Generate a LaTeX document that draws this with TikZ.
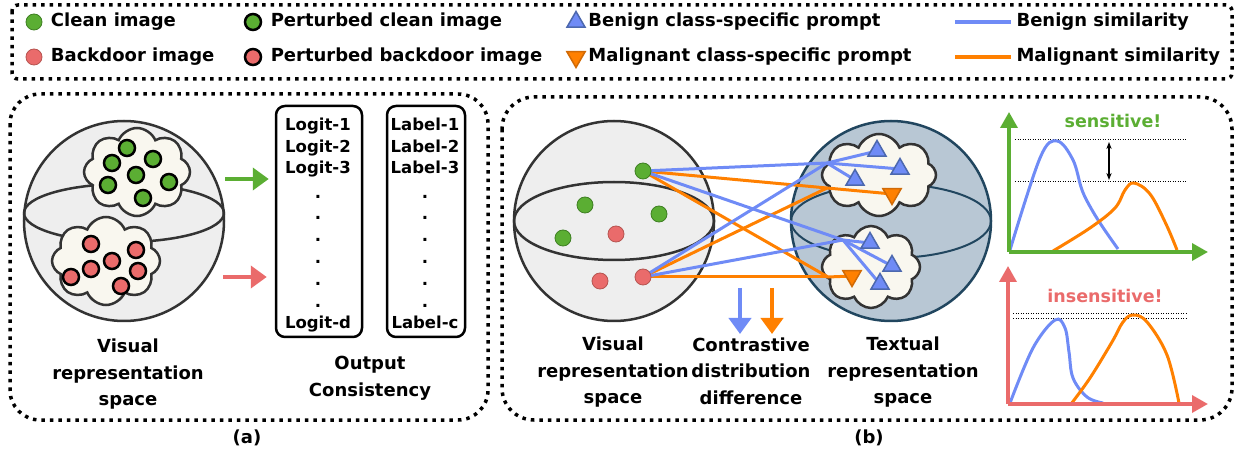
\documentclass[tikz,border=0pt]{standalone}
\usepackage{fontspec}
\setmainfont{DejaVu Sans}
\usetikzlibrary{arrows.meta,shapes.geometric,shapes.symbols,positioning}

\definecolor{cleangreen}{HTML}{5BAE33}
\definecolor{cleanedge}{HTML}{3E7F22}
\definecolor{bdred}{HTML}{EA6B6B}
\definecolor{bdedge}{HTML}{B65450}
\definecolor{benignblue}{HTML}{6F8BF6}
\definecolor{benignedge}{HTML}{4C68AE}
\definecolor{maligorange}{HTML}{FF8000}
\definecolor{maligedge}{HTML}{D16A06}
\definecolor{cloudfill}{HTML}{F9F7EF}
\definecolor{spheregray}{HTML}{EEEEEE}
\definecolor{edgegray}{HTML}{333333}
\definecolor{textsphere}{HTML}{B8C7D4}
\definecolor{textedge}{HTML}{21465F}

\begin{document}
\begin{tikzpicture}[x=1pt, y=-1pt,
  every node/.style={font=\bfseries\fontsize{18}{26.5}\selectfont},
  dotframe/.style={line width=3.5pt, dash pattern=on 3.5pt off 5pt},
  sphere/.style={circle, draw=edgegray, line width=2.5pt, fill=spheregray, minimum size=200pt, inner sep=0pt},
  blob/.style={cloud, cloud puffs=8, cloud puff arc=135, cloud ignores aspect, draw=edgegray, line width=2.5pt, fill=cloudfill, inner sep=0pt},
  cleandot/.style={circle, minimum size=16pt, inner sep=0pt, line width=0.8pt},
  pdot/.style={circle, minimum size=16pt, inner sep=0pt, draw=black, line width=2.5pt},
  benign/.style={regular polygon, regular polygon sides=3, minimum size=21pt, inner sep=0pt, fill=benignblue, draw=benignedge, line width=1.5pt},
  malign/.style={benign, shape border rotate=180, fill=maligorange, draw=maligedge},
  bline/.style={benignblue, line width=3pt},
  oline/.style={maligorange, line width=3pt},
  lgtext/.style={text height=13pt, text depth=3.5pt},
  outbox/.style={draw, line width=2.5pt, rounded corners=9pt, minimum height=231pt},
  small/.style={font=\bfseries\fontsize{16.5}{20}\selectfont, anchor=base, inner sep=0pt},
  bigarrow/.style={line width=4pt, -{Triangle[length=16pt,width=22pt]}},
  gaxis/.style={line width=3.5pt, -{Triangle[length=16pt,width=17pt]}},
  refline/.style={line width=1pt, dash pattern=on 1pt off 1.5pt},
  curve/.style={line width=3pt, smooth, tension=0.6}]

\useasboundingbox (0,0) rectangle (1235,454);

% legend
\draw[dotframe, rounded corners=6pt] (12,5) rectangle (1232,79);
\node[cleandot, fill=cleangreen, draw=cleanedge] (lgclean) at (34,22) {};
\node[lgtext, right=5pt of lgclean] (lgcleantxt) {Clean image};
\node[cleandot, fill=bdred, draw=bdedge] (lgbd) at (34,57) {};
\node[lgtext, right=5pt of lgbd] (lgbdtxt) {Backdoor image};
\node[pdot, fill=cleangreen] (lgpclean) at (253,22) {};
\node[lgtext, right=5pt of lgpclean] (lgpcleantxt) {Perturbed clean image};
\node[pdot, fill=bdred] (lgpbd) at (253,57) {};
\node[lgtext, right=5pt of lgpbd] (lgpbdtxt) {Perturbed backdoor image};
\node[benign] (lgbenign) at (576,22) {};
\node[lgtext, right=2pt of lgbenign] (lgbenigntxt) {Benign class-specific prompt};
\node[malign] (lgmalign) at (576,57) {};
\node[lgtext, right=2pt of lgmalign] (lgmaligntxt) {Malignant class-specific prompt};
\coordinate (lgb1) at (955,22);
\coordinate (lgb2) at (1011,22);
\draw[bline, line width=3.5pt] (lgb1) -- (lgb2);
\node[lgtext, right=2pt of lgb2] (lgbsimtxt) {Benign similarity};
\coordinate (lgo1) at (955,57);
\coordinate (lgo2) at (1011,57);
\draw[oline, line width=3.5pt] (lgo1) -- (lgo2);
\node[lgtext, right=2pt of lgo2] (lgosimtxt) {Malignant similarity};

% (a) output consistency
\draw[dotframe, rounded corners=30pt] (10,94) rectangle (488,420);
\node[sphere] (vsa) at (124,221) {};
\draw[edgegray, line width=2.5pt] (124,213) ellipse [x radius=100, y radius=29];
\node[blob, minimum width=106pt, minimum height=88pt] (cla1) at (137,172) {};
\node[blob, minimum width=108pt, minimum height=88pt] (cla2) at (106,261) {};
\foreach \p [count=\i] in {(127,148),(112,163),(153,159),(136,175),(108,185),(169,182),(143,198)}
  \node[pdot, fill=cleangreen] (ga\i) at \p {};
\foreach \p [count=\i] in {(91,244),(136,250),(112,261),(91,269),(138,271),(71,277),(121,286)}
  \node[pdot, fill=bdred] (ra\i) at \p {};

\node[outbox, minimum width=86pt] (logbox) at (319,221.5) {};
\node[outbox, minimum width=78pt] (labbox) at (426,221.5) {};
\foreach \y/\t [count=\i] in {131/1,153/2,174/3} {
  \node[small] (logit\i) at (318,\y) {Logit-\t};
  \node[small] (label\i) at (425,\y) {Label-\t};
}
\foreach \y [count=\i] in {199,220,242,264,286,308} {
  \node[small] (logdot\i) at (318,\y) {.};
  \node[small] (labdot\i) at (425,\y) {.};
}
\node[small] (logitd) at (318,329) {Logit-d};
\node[small] (labelc) at (425,329) {Label-c};

\coordinate (gaa) at (225,179);
\coordinate (raa) at (223,277);
\draw[bigarrow, cleangreen, shorten >=6pt] (gaa) -- (gaa -| logbox.west);
\draw[bigarrow, bdred, shorten >=8pt] (raa) -- (raa -| logbox.west);

\node[align=center] (vistxta) at (128,374.5) {Visual\\representation\\space};
\node[align=center] (outtxt) at (370,378.5) {Output\\Consistency};
\node (capa) at (247,438) {(a)};

% (b) contrastive distribution difference
\draw[dotframe, rounded corners=32pt] (502,97) rectangle (1232,420);
\node[sphere] (vsb) at (614,221) {};
\draw[edgegray, line width=2.5pt] (614,221) ellipse [x radius=100, y radius=39];
\node[sphere, fill=textsphere, draw=textedge] (tsb) at (891,221) {};
\draw[textedge, line width=2pt] (891,221) ellipse [x radius=100, y radius=37];
\node[blob, minimum width=114pt, minimum height=82pt] (clb1) at (879,175) {};
\node[blob, minimum width=98pt, minimum height=82pt] (clb2) at (871,267) {};

\coordinate (vg) at (643,171);
\coordinate (vr) at (643,277);
\coordinate (jb1) at (827,163);
\coordinate (jo1) at (827,188);
\coordinate (jb2) at (843,240);
\coordinate (jo2) at (828,277);
\coordinate (tb1) at (877,151);
\coordinate (tb2) at (900,169);
\coordinate (tb3) at (855,180);
\coordinate (tm1) at (892,194);
\coordinate (tb4) at (870,243);
\coordinate (tb5) at (892,266);
\coordinate (tb6) at (880,284);
\coordinate (tm2) at (852,276);

\draw[oline] (vg) -- (jo1) -- (tm1);
\draw[oline] (vr) -- (jo1);
\draw[oline] (vg) -- (jo2) -- (tm2);
\draw[oline] (vr) -- (jo2);
\draw[bline] (vg) -- (jb1);
\draw[bline] (vr) -- (jb1);
\draw[bline] (vg) -- (jb2);
\draw[bline] (vr) -- (jb2);
\foreach \t in {tb1,tb2,tb3} \draw[bline] (jb1) -- (\t);
\foreach \t in {tb4,tb5,tb6} \draw[bline] (jb2) -- (\t);

\node[cleandot, fill=cleangreen, draw=cleanedge] (gb1) at (vg) {};
\foreach \p [count=\i] in {(585,205),(659,214),(563,238)}
  \node[cleandot, fill=cleangreen, draw=cleanedge] (gb\i x) at \p {};
\node[cleandot, fill=bdred, draw=bdedge] (rb1) at (vr) {};
\foreach \p [count=\i] in {(616,234),(600,281)}
  \node[cleandot, fill=bdred, draw=bdedge] (rb\i x) at \p {};
\foreach \t in {tb1,tb2,tb3,tb4,tb5,tb6}
  \node[benign] (\t n) at (\t) {};
\node[malign] (tm1n) at (tm1) {};
\node[malign] (tm2n) at (tm2) {};

\coordinate (db1) at (740,288);
\coordinate (db2) at (740,334);
\coordinate (do1) at (772,288);
\coordinate (do2) at (772,334);
\draw[bigarrow, benignblue] (db1) -- (db2);
\draw[bigarrow, maligorange] (do1) -- (do2);

\node[align=center] (vistxtb) at (613,372.5) {Visual\\representation\\space};
\node[align=center] (contxt) at (751,371) {Contrastive\\distribution\\difference};
\node[align=center] (textxt) at (903,372.5) {Textual\\representation\\space};
\node (capb) at (869,438) {(b)};

% sensitive graph
\coordinate (o1) at (1009,252);
\coordinate (y1) at (1009,112);
\coordinate (x1) at (1208,252);
\draw[refline] (1015,140) -- (1187,140);
\draw[refline] (1015,182) -- (1187,182);
\draw[curve, benignblue] plot coordinates {(1010,250) (1040,158) (1057,141) (1073,160) (1082,190) (1092,210) (1104,229) (1118,249)};
\draw[curve, maligorange] plot coordinates {(1053,251) (1090,228) (1115,208) (1125,190) (1134,183) (1150,194) (1166,224) (1177,250)};
\draw[gaxis, cleangreen] (o1) -- (y1);
\draw[gaxis, cleangreen] (o1) -- (x1);
\coordinate (da1) at (1109,142);
\coordinate (da2) at (1109,180);
\draw[line width=1.2pt, {Stealth[length=7pt]}-{Stealth[length=7pt]}] (da1) -- (da2);
\node[text=cleangreen, font=\bfseries\fontsize{17.5}{20}\selectfont] (senstxt) at (1113,121) {sensitive!};

% insensitive graph
\coordinate (o2) at (1008,404);
\coordinate (y2) at (1008,266);
\coordinate (x2) at (1208,404);
\draw[refline] (1013,314) -- (1187,314);
\draw[refline] (1013,319) -- (1187,319);
\draw[curve, benignblue] plot coordinates {(1010,403) (1033,348) (1055,320) (1065,328) (1069,352) (1073,378) (1087,397) (1103,403)};
\draw[curve, maligorange] plot coordinates {(1071,404) (1090,378) (1112,342) (1123,322) (1133,315) (1147,322) (1167,355) (1179,403)};
\draw[gaxis, bdred] (o2) -- (y2);
\draw[gaxis, bdred] (o2) -- (x2);
\node[text=bdred, font=\bfseries\fontsize{17.5}{20}\selectfont] (insenstxt) at (1105,296) {insensitive!};
\end{tikzpicture}
\end{document}
